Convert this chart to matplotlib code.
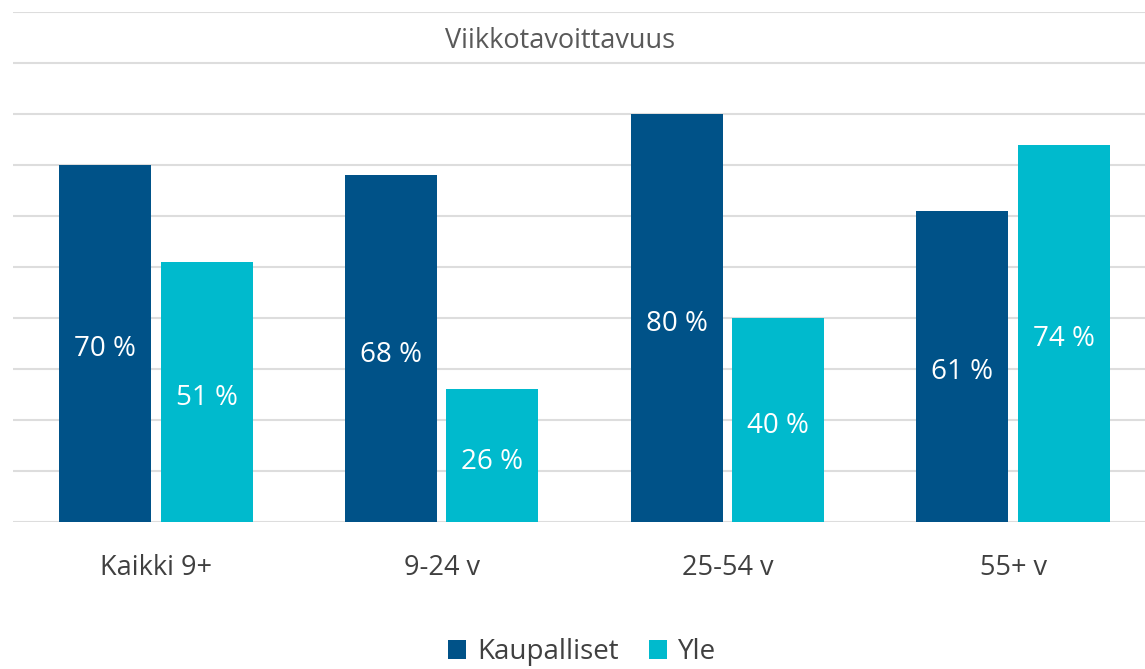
import matplotlib.pyplot as plt
import numpy as np

# Data
categories = ['Kaikki 9+', '9-24 v', '25-54 v', '55+ v']
kaupalliset = [70, 68, 80, 61]
yle = [51, 26, 40, 74]
series_names = ['Kaupalliset', 'Yle']
colors = ['#005288', '#00BACD']

plt.rcParams['font.family'] = ['Open Sans', 'DejaVu Sans']

fig = plt.figure(figsize=(11.45, 6.69), dpi=100)
ax = fig.add_axes([13 / 1145, 147 / 669, 1143 / 1145, 510 / 669])

x = np.arange(len(categories))
w = 0.322
off = 0.178
b1 = ax.bar(x - off, kaupalliset, w, color=colors[0], label=series_names[0], zorder=3)
b2 = ax.bar(x + off, yle, w, color=colors[1], label=series_names[1], zorder=3)

for bars in (b1, b2):
    txts = ax.bar_label(bars, labels=[f'{v} %' for v in bars.datavalues], label_type='center',
                        color='white', fontsize=20)
    # nudge labels slightly down like the original
    for t in txts:
        t.xyann = (0, -4.3)

ax.set_xlim(-0.5, 3.5)
ax.set_ylim(0, 100)
ax.set_yticks(np.arange(0, 101, 10))
ax.yaxis.grid(True, color='#DDDDDD', linewidth=1.5, zorder=0)
ax.tick_params(axis='y', left=False, labelleft=False)
ax.set_xticks(x)
ax.set_xticklabels(categories, fontsize=19.5, color='#404040')
ax.tick_params(axis='x', length=0, pad=23)
for s in ax.spines.values():
    s.set_visible(False)

fig.text(560 / 1145, 1 - 41 / 669, 'Viikkotavoittavuus', ha='center', va='center',
         fontsize=19.5, color='#595959')

fig.legend(handles=[b1, b2], labels=series_names, loc='center',
           bbox_to_anchor=(582 / 1145, 1 - 652 / 669), ncol=2, frameon=False,
           fontsize=20, handlelength=0.65, handleheight=0.65, handletextpad=0.4,
           columnspacing=1.1, labelcolor='#404040')

fig.savefig('out.png', dpi=100)
